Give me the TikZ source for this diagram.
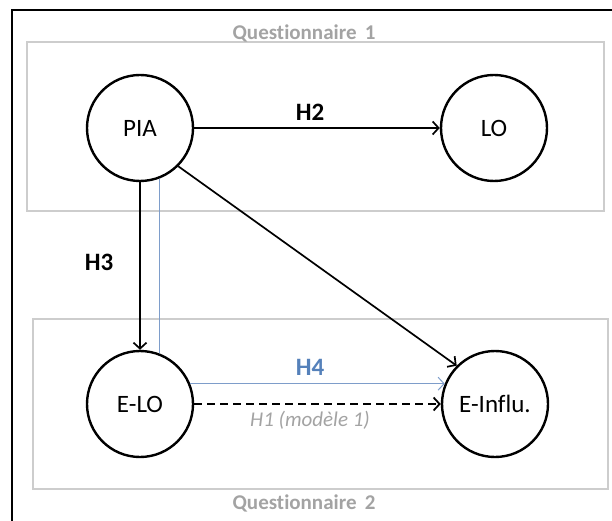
\documentclass[tikz,border=0pt]{standalone}
\usepackage{fontspec}
\setmainfont[Ligatures=NoCommon]{Carlito}
\usetikzlibrary{arrows.meta}
\definecolor{boxgray}{HTML}{CDCDCD}
\definecolor{txtgray}{HTML}{A3A3A3}
\definecolor{hblue}{HTML}{5581BA}
\definecolor{lineblue}{HTML}{7E9DCA}

\begin{document}
\begin{tikzpicture}[x=1pt, y=-1pt, >={Straight Barb[length=6pt, width=13pt]},
    var/.style={draw, circle, line width=2.4pt, minimum size=106pt, inner sep=0pt, font=\fontsize{25}{29}\selectfont},
    hyp/.style={font=\fontsize{25}{29}\selectfont\bfseries},
    quest/.style={text=txtgray, font=\fontsize{21}{25}\selectfont\bfseries},
    zone/.style={draw=boxgray, line width=2.8pt}]
    \useasboundingbox (0,0) rectangle (612,521);
    \draw[line width=2.8pt] (612,10) -- (12,10) -- (12,521);
    \draw[zone] (27,42) rectangle (604,211);
    \draw[zone] (33,319) rectangle (608,489);
    \node[quest] (Q1) at (304,33) {Questionnaire\, 1};
    \node[quest] (Q2) at (304,503) {Questionnaire\, 2};
    \node[var] (PIA) at (140,128) {PIA};
    \node[var] (LO) at (494,128) {LO};
    \node[var] (ELO) at (140,404) {E-LO};
    \node[var] (EInf) at (495,404) {E-Influ.};
    \draw[->, line width=1.7pt] (PIA) -- (LO);
    \draw[->, line width=1.7pt] (PIA) -- (ELO);
    \draw[->, line width=1.7pt] (PIA.-45) -- (EInf.135);
    \draw[lineblue, line width=1pt] (PIA.-69) -- (ELO.69);
    \draw[->, lineblue, line width=1pt] (ELO.22) -- (EInf.158);
    \draw[->, dash pattern=on 8pt off 5pt, line width=1.8pt] (ELO) -- (EInf);
    \node[hyp] (H2) at (310,112) {H2};
    \node[hyp] (H3) at (99,262) {H3};
    \node[hyp, text=hblue] (H4) at (310,367) {H4};
    \node[text=txtgray, font=\fontsize{21}{25}\selectfont\itshape] (H1) at (310,420) {H1 (modèle 1)};
\end{tikzpicture}
\end{document}
